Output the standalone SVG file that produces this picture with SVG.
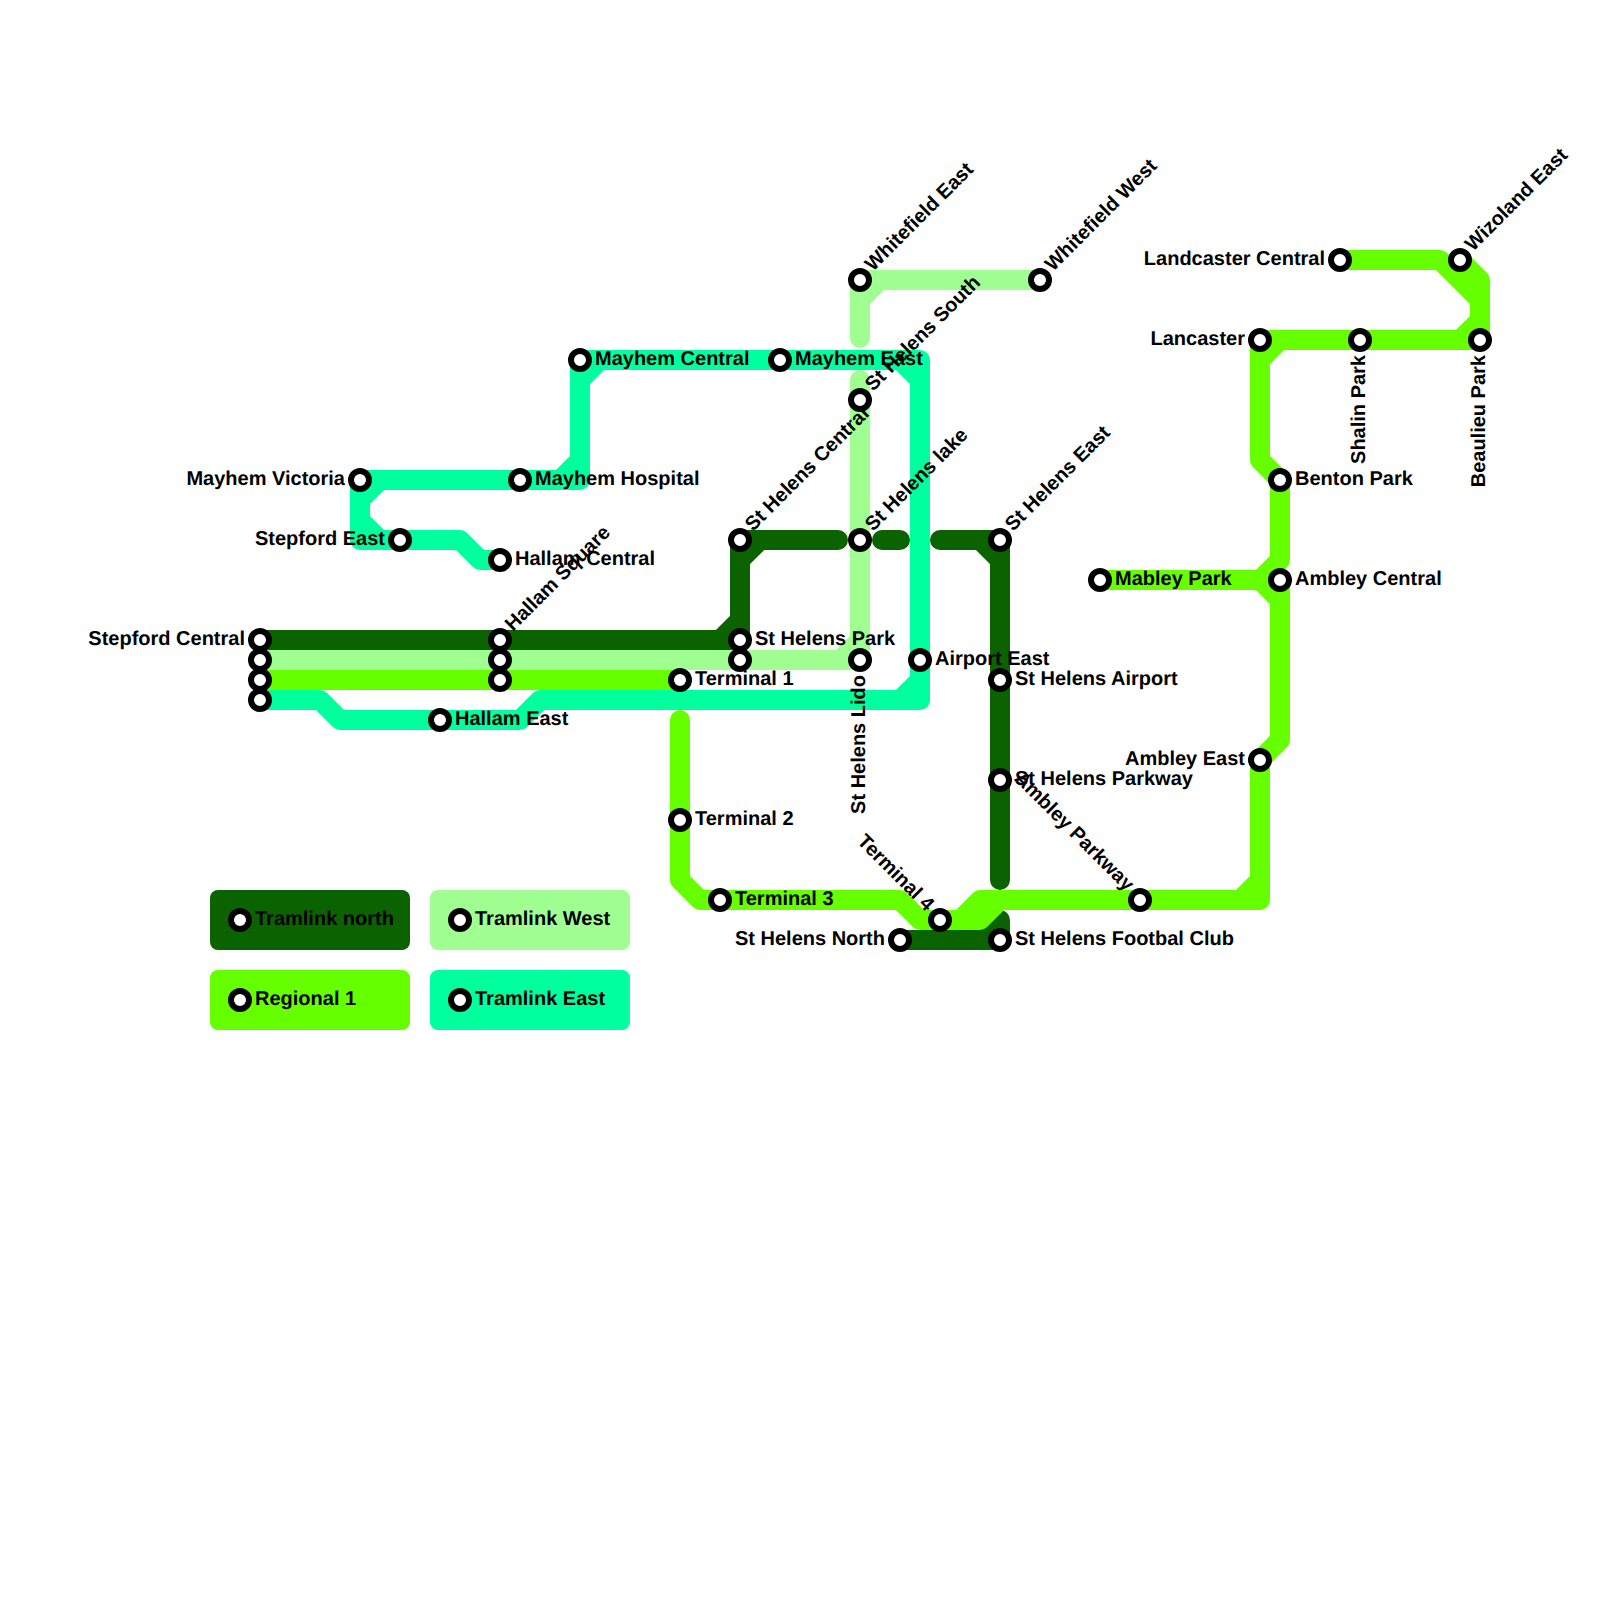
<svg xmlns="http://www.w3.org/2000/svg" width="1600" height="1600" viewBox="0 0 1600 1600">
<style>
.l{fill:none;stroke-width:20;stroke-linecap:round;stroke-linejoin:round}
.n{stroke:#0b6300}.w{stroke:#9fff91}.r{stroke:#66ff00}.e{stroke:#00ff9d}
circle{fill:#fff;stroke:#000;stroke-width:6}
text{font-family:"Liberation Sans",Arial,sans-serif;font-weight:bold;font-size:20px;fill:#000;text-rendering:geometricPrecision}
.end{text-anchor:end}
</style>
<rect width="1600" height="1600" fill="#fff"/>
<g id="connectors">
<path class="l n" d="M260,640L720,640L740,620L740,560L760,540L838,540M720,640L740,640L740,620M760,540L740,540L740,560M882,540L900,540M940,540L980,540L1000,560L1000,880M980,540L1000,540L1000,560M900,940L1000,940L1000,920L980,940"/>
<path class="l e" d="M260,700L320,700L340,720L520,720L540,700L900,700L920,680L920,380L900,360L600,360L580,380L580,460L560,480L380,480L360,500L360,520L380,540L460,540L480,560L500,560"/>
<path class="l e" d="M900,700L920,700L920,680M920,380L920,360L900,360M600,360L580,360L580,380M580,460L580,480L560,480M380,480L360,480L360,500M360,520L360,540L380,540"/>
<path class="l w" d="M260,660L840,660L860,640L860,380M860,338L860,300L880,280L1040,280M840,660L860,660L860,640M860,300L860,280L880,280"/>
<path class="l r" d="M260,680L680,680M680,720L680,880L700,900L900,900L920,920L980,920L1000,900M940,920L960,920L980,900L1240,900L1260,880L1260,760L1280,740L1280,580M1240,900L1260,900L1260,880"/>
<path class="l r" d="M1100,580L1260,580L1280,560L1280,480L1260,460L1260,360L1280,340L1460,340L1480,320L1480,300L1440,260L1340,260M1260,580L1280,600M1280,340L1260,340L1260,360M1460,340L1480,340L1480,280L1460,260"/>
</g>
<g id="st-stepford-central"><circle cx="260" cy="640" r="9"/><text class="end" x="245" y="645">Stepford Central</text></g>
<g id="st-a"><circle cx="260" cy="660" r="9"/></g>
<g id="st-b"><circle cx="260" cy="680" r="9"/></g>
<g id="st-c"><circle cx="260" cy="700" r="9"/></g>
<g id="st-hallam-square"><circle cx="500" cy="640" r="9"/><text transform="translate(513,632) rotate(-45)">Hallam Square</text></g>
<g id="st-d"><circle cx="500" cy="660" r="9"/></g>
<g id="st-e"><circle cx="500" cy="680" r="9"/></g>
<g id="st-hallam-east"><circle cx="440" cy="720" r="9"/><text x="455" y="725">Hallam East</text></g>
<g id="st-terminal-1"><circle cx="680" cy="680" r="9"/><text x="695" y="685">Terminal 1</text></g>
<g id="st-st-helens-central"><circle cx="740" cy="540" r="9"/><text transform="translate(753,532) rotate(-45)">St Helens Central</text></g>
<g id="st-st-helens-park"><circle cx="740" cy="640" r="9"/><text x="755" y="645">St Helens Park</text></g>
<g id="st-f"><circle cx="740" cy="660" r="9"/></g>
<g id="st-mayhem-central"><circle cx="580" cy="360" r="9"/><text x="595" y="365">Mayhem Central</text></g>
<g id="st-mayhem-east"><circle cx="780" cy="360" r="9"/><text x="795" y="365">Mayhem East</text></g>
<g id="st-mayhem-victoria"><circle cx="360" cy="480" r="9"/><text class="end" x="345" y="485">Mayhem Victoria</text></g>
<g id="st-mayhem-hospital"><circle cx="520" cy="480" r="9"/><text x="535" y="485">Mayhem Hospital</text></g>
<g id="st-stepford-east"><circle cx="400" cy="540" r="9"/><text class="end" x="385" y="545">Stepford East</text></g>
<g id="st-hallam-central"><circle cx="500" cy="560" r="9"/><text x="515" y="565">Hallam Central</text></g>
<g id="st-whitefield-east"><circle cx="860" cy="280" r="9"/><text transform="translate(873,272) rotate(-45)">Whitefield East</text></g>
<g id="st-whitefield-west"><circle cx="1040" cy="280" r="9"/><text transform="translate(1053,272) rotate(-45)">Whitefield West</text></g>
<g id="st-st-helens-south"><circle cx="860" cy="400" r="9"/><text transform="translate(873,392) rotate(-45)">St Helens South</text></g>
<g id="st-st-helens-lake"><circle cx="860" cy="540" r="9"/><text transform="translate(873,532) rotate(-45)">St Helens lake</text></g>
<g id="st-st-helens-lido"><circle cx="860" cy="660" r="9"/><text class="end" transform="translate(865,675) rotate(-90)">St Helens Lido</text></g>
<g id="st-airport-east"><circle cx="920" cy="660" r="9"/><text x="935" y="665">Airport East</text></g>
<g id="st-st-helens-east"><circle cx="1000" cy="540" r="9"/><text transform="translate(1013,532) rotate(-45)">St Helens East</text></g>
<g id="st-st-helens-airport"><circle cx="1000" cy="680" r="9"/><text x="1015" y="685">St Helens Airport</text></g>
<g id="st-st-helens-parkway"><circle cx="1000" cy="780" r="9"/><text x="1015" y="785">St Helens Parkway</text></g>
<g id="st-terminal-2"><circle cx="680" cy="820" r="9"/><text x="695" y="825">Terminal 2</text></g>
<g id="st-terminal-3"><circle cx="720" cy="900" r="9"/><text x="735" y="905">Terminal 3</text></g>
<g id="st-terminal-4"><circle cx="940" cy="920" r="9"/><text class="end" transform="translate(926,912) rotate(45)">Terminal 4</text></g>
<g id="st-st-helens-north"><circle cx="900" cy="940" r="9"/><text class="end" x="885" y="945">St Helens North</text></g>
<g id="st-st-helens-football"><circle cx="1000" cy="940" r="9"/><text x="1015" y="945">St Helens Footbal Club</text></g>
<g id="st-ambley-parkway"><circle cx="1140" cy="900" r="9"/><text class="end" transform="translate(1126,892) rotate(45)">Ambley Parkway</text></g>
<g id="st-ambley-east"><circle cx="1260" cy="760" r="9"/><text class="end" x="1245" y="765">Ambley East</text></g>
<g id="st-mabley-park"><circle cx="1100" cy="580" r="9"/><text x="1115" y="585">Mabley Park</text></g>
<g id="st-ambley-central"><circle cx="1280" cy="580" r="9"/><text x="1295" y="585">Ambley Central</text></g>
<g id="st-benton-park"><circle cx="1280" cy="480" r="9"/><text x="1295" y="485">Benton Park</text></g>
<g id="st-lancaster"><circle cx="1260" cy="340" r="9"/><text class="end" x="1245" y="345">Lancaster</text></g>
<g id="st-shalin-park"><circle cx="1360" cy="340" r="9"/><text class="end" transform="translate(1365,355) rotate(-90)">Shalin Park</text></g>
<g id="st-beaulieu-park"><circle cx="1480" cy="340" r="9"/><text class="end" transform="translate(1485,355) rotate(-90)">Beaulieu Park</text></g>
<g id="st-landcaster-central"><circle cx="1340" cy="260" r="9"/><text class="end" x="1325" y="265">Landcaster Central</text></g>
<g id="st-wizoland-east"><circle cx="1460" cy="260" r="9"/><text transform="translate(1473,252) rotate(-45)">Wizoland East</text></g>
<g id="legend">
<rect x="210" y="890" width="200" height="60" rx="8" fill="#0b6300"/><circle cx="240" cy="920" r="9"/><text x="255" y="925">Tramlink north</text>
<rect x="430" y="890" width="200" height="60" rx="8" fill="#9fff91"/><circle cx="460" cy="920" r="9"/><text x="475" y="925">Tramlink West</text>
<rect x="210" y="970" width="200" height="60" rx="8" fill="#66ff00"/><circle cx="240" cy="1000" r="9"/><text x="255" y="1005">Regional 1</text>
<rect x="430" y="970" width="200" height="60" rx="8" fill="#00ff9d"/><circle cx="460" cy="1000" r="9"/><text x="475" y="1005">Tramlink East</text>
</g>
</svg>
